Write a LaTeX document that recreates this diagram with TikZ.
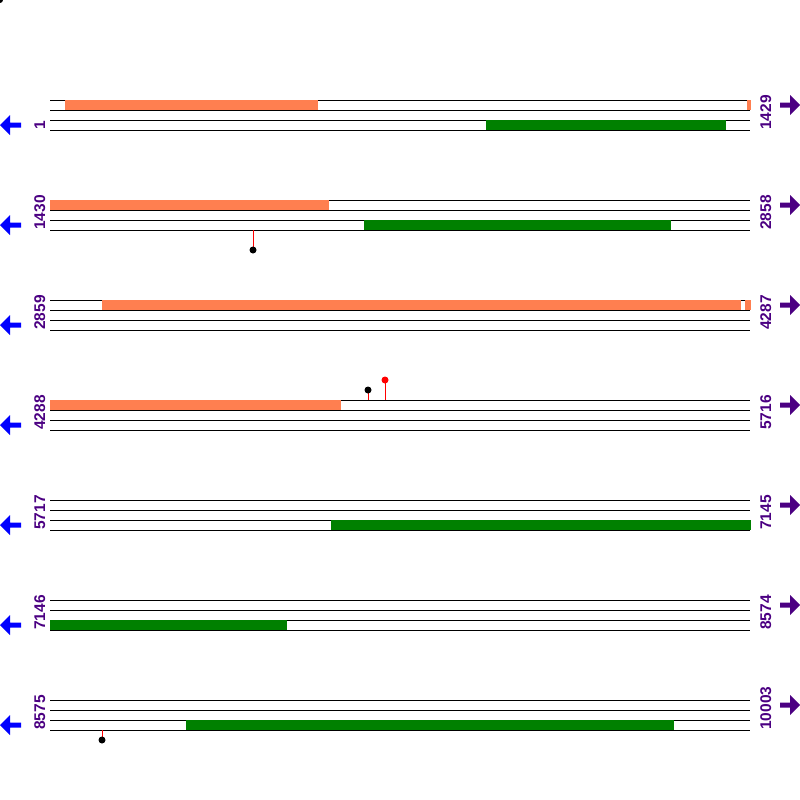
\documentclass[tikz,border=0pt]{standalone}
\usepackage{fontspec}
\setmainfont{Liberation Sans}
\usepackage{tikz}
\definecolor{bandorange}{HTML}{FF7F50}
\definecolor{bandgreen}{HTML}{008000}
\definecolor{tagpurple}{HTML}{4B0082}
\definecolor{tagblue}{HTML}{0000FF}
\tikzset{
	strand/.style={line width=1pt, color=black},
	poslabel/.style={rotate=90, anchor=base west, inner sep=0pt, text=tagpurple, font=\fontsize{15.5}{16}\selectfont\bfseries},
	stem/.style={line width=1pt, color=red},
}
\def\leftarr(#1){\fill[tagblue] (0, #1+25) -- (10, #1+15) -- (10, #1+22.5) -- (21, #1+22.5) -- (21, #1+27.5) -- (10, #1+27.5) -- (10, #1+35) -- cycle;}
\def\rightarr(#1){\fill[tagpurple] (800, #1+5) -- (790, #1-5) -- (790, #1+2.5) -- (780, #1+2.5) -- (780, #1+7.5) -- (790, #1+7.5) -- (790, #1+15) -- cycle;}

\begin{document}
\begin{tikzpicture}[x=1pt, y=-1pt]
		%%%%% START %%%%%
		\useasboundingbox (0, 0) rectangle (800, 800);
		
		\fill[black] (0, 0) circle (3);
		
		% row 1
		\draw[strand] (50, 100) -- (750, 100);
		\draw[strand] (50, 110) -- (750, 110);
		\draw[strand] (50, 120) -- (750, 120);
		\draw[strand] (50, 130) -- (750, 130);
		\fill[bandorange] (65, 100) rectangle (318, 110);
		\fill[bandorange] (747, 100) rectangle (751, 110);
		\fill[bandgreen] (486, 120) rectangle (726, 130);
		\node[poslabel] (lbl1a) at (45, 130) {1};
		\node[poslabel] (lbl1b) at (771, 130) {1429};
		\leftarr(100)
		\rightarr(100)
		
		% row 2
		\draw[strand] (50, 200) -- (750, 200);
		\draw[strand] (50, 210) -- (750, 210);
		\draw[strand] (50, 220) -- (750, 220);
		\draw[strand] (50, 230) -- (750, 230);
		\fill[bandorange] (50, 200) rectangle (329, 210);
		\fill[bandgreen] (364, 220) rectangle (671, 230);
		\draw[stem] (253, 230) -- (253, 247);
		\fill[black] (253, 250) circle (3.5);
		\node[poslabel] (lbl2a) at (45, 230) {1430};
		\node[poslabel] (lbl2b) at (771, 230) {2858};
		\leftarr(200)
		\rightarr(200)
		
		% row 3
		\draw[strand] (50, 300) -- (750, 300);
		\draw[strand] (50, 310) -- (750, 310);
		\draw[strand] (50, 320) -- (750, 320);
		\draw[strand] (50, 330) -- (750, 330);
		\fill[bandorange] (102, 300) rectangle (741, 310);
		\fill[bandorange] (745, 300) rectangle (751, 310);
		\node[poslabel] (lbl3a) at (45, 330) {2859};
		\node[poslabel] (lbl3b) at (771, 330) {4287};
		\leftarr(300)
		\rightarr(300)
		
		% row 4
		\draw[strand] (50, 400) -- (750, 400);
		\draw[strand] (50, 410) -- (750, 410);
		\draw[strand] (50, 420) -- (750, 420);
		\draw[strand] (50, 430) -- (750, 430);
		\fill[bandorange] (50, 400) rectangle (341, 410);
		\draw[stem] (368, 400) -- (368, 392);
		\fill[black] (368, 390) circle (3.5);
		\draw[stem] (385, 400) -- (385, 382);
		\fill[red] (385, 380) circle (3.5);
		\node[poslabel] (lbl4a) at (45, 430) {4288};
		\node[poslabel] (lbl4b) at (771, 430) {5716};
		\leftarr(400)
		\rightarr(400)
		
		% row 5
		\draw[strand] (50, 500) -- (750, 500);
		\draw[strand] (50, 510) -- (750, 510);
		\draw[strand] (50, 520) -- (750, 520);
		\draw[strand] (50, 530) -- (750, 530);
		\fill[bandgreen] (331, 520) rectangle (751, 530);
		\node[poslabel] (lbl5a) at (45, 530) {5717};
		\node[poslabel] (lbl5b) at (771, 530) {7145};
		\leftarr(500)
		\rightarr(500)
		
		% row 6
		\draw[strand] (50, 600) -- (750, 600);
		\draw[strand] (50, 610) -- (750, 610);
		\draw[strand] (50, 620) -- (750, 620);
		\draw[strand] (50, 630) -- (750, 630);
		\fill[bandgreen] (50, 620) rectangle (287, 630);
		\node[poslabel] (lbl6a) at (45, 630) {7146};
		\node[poslabel] (lbl6b) at (771, 630) {8574};
		\leftarr(600)
		\rightarr(600)
		
		% row 7
		\draw[strand] (50, 700) -- (750, 700);
		\draw[strand] (50, 710) -- (750, 710);
		\draw[strand] (50, 720) -- (750, 720);
		\draw[strand] (50, 730) -- (750, 730);
		\fill[bandgreen] (186, 720) rectangle (674, 730);
		\draw[stem] (102, 730) -- (102, 737);
		\fill[black] (102, 740) circle (3.5);
		\node[poslabel] (lbl7a) at (45, 730) {8575};
		\node[poslabel] (lbl7b) at (771, 730) {10003};
		\leftarr(700)
		\rightarr(700)
		
		%%%%% END %%%%%
\end{tikzpicture}
\end{document}
